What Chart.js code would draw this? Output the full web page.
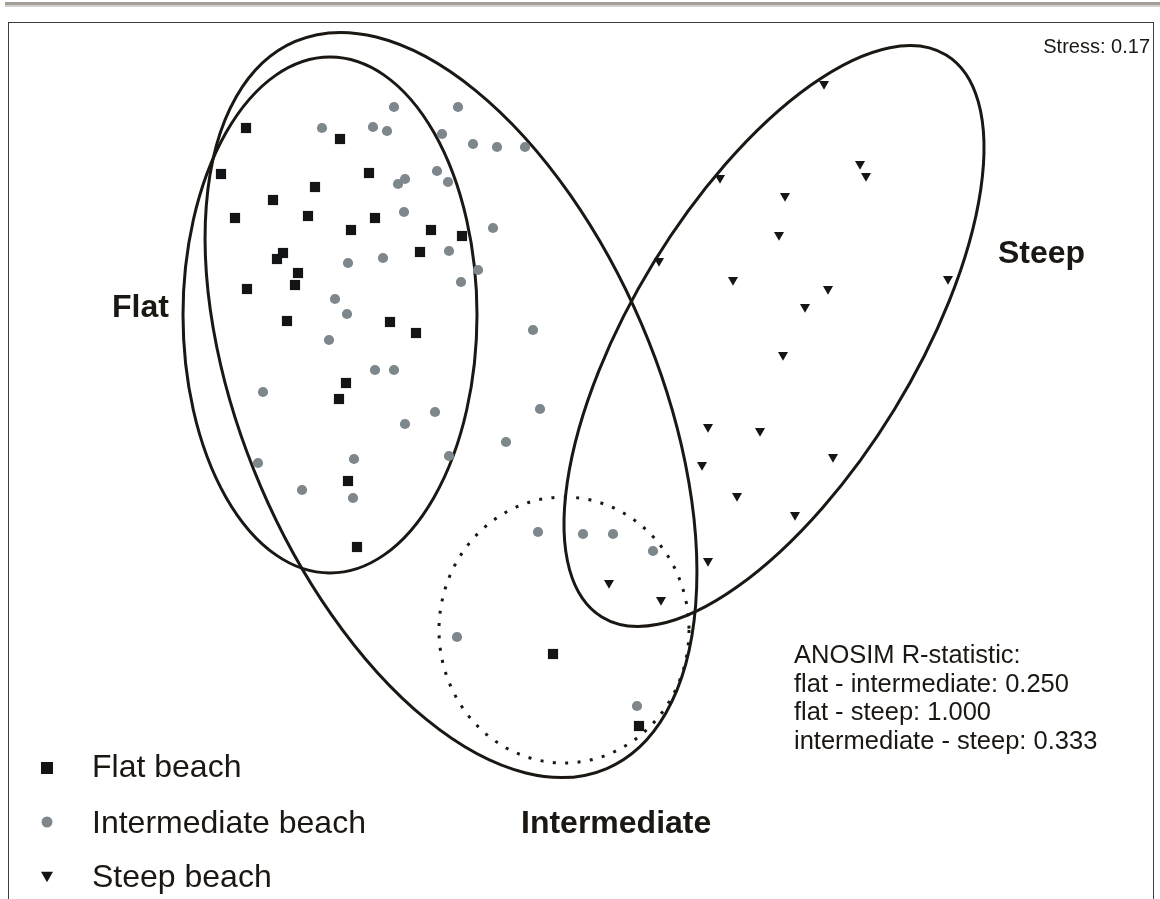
<!DOCTYPE html>
<html>
<head>
<meta charset="utf-8">
<script src="https://cdn.jsdelivr.net/npm/chart.js@4.4.1/dist/chart.umd.min.js"></script>
<style>
html, body { margin: 0; padding: 0; background: #fff; }
canvas { display: block; }
</style>
</head>
<body>
<canvas id="nmds" width="1160" height="899"></canvas>
<script>
// NMDS ordination of beach samples, positions (plot units, y grows downward)
var flatX = [246, 340, 221, 369, 315, 273, 235, 308, 375, 351, 431, 462, 420, 283, 277, 298, 295, 247, 287, 390, 416, 346, 339, 348, 357, 553, 639]
var flatY = [128, 139, 174, 173, 187, 200, 218, 216, 218, 230, 230, 236, 252, 253, 259, 273, 285, 289, 321, 322, 333, 383, 399, 481, 547, 654, 726]

var interX = [394, 458, 322, 373, 387, 442, 473, 497, 525, 437, 448, 405, 398, 404, 493, 449, 383, 348, 478, 461, 335, 347, 329, 375, 394, 263, 533, 540, 435, 405, 506, 258, 354, 449, 302, 353, 538, 583, 613, 653, 457, 637]
var interY = [107, 107, 128, 127, 131, 134, 144, 147, 147, 171, 182, 179, 184, 212, 228, 251, 258, 263, 270, 282, 299, 314, 340, 370, 370, 392, 330, 409, 412, 424, 442, 463, 459, 456, 490, 498, 532, 534, 534, 551, 637, 706]

var steepX = [824, 860, 866, 720, 785, 779, 659, 733, 948, 828, 805, 783, 708, 760, 833, 702, 737, 795, 708, 609, 661]
var steepY = [84, 164, 176, 178, 196, 235, 261, 280, 279, 289, 307, 355, 427, 431, 457, 465, 496, 515, 561, 583, 600]

var seriesNames = ['Flat beach', 'Intermediate beach', 'Steep beach']

// group ellipses: centre, half axes, tilt (degrees, clockwise on screen)
var ellNames = ['Flat', 'Intermediate', 'Steep', 'Intermediate core']
var ellCx = [330, 451, 774, 564]
var ellCy = [315, 405, 336, 630]
var ellRx = [147, 207, 141, 125]
var ellRy = [258, 395.5, 329.5, 133]
var ellRot = [0, -23.2, 31.5, 0]
var ellDotted = [false, false, false, true]

var groupLabels = ['Flat', 'Steep', 'Intermediate']
var stressText = 'Stress: 0.17'
var anosimLines = ['ANOSIM R-statistic:', 'flat - intermediate: 0.250', 'flat - steep: 1.000', 'intermediate - steep: 0.333']

function pts(xs, ys) {
  return xs.map(function (v, i) { return { x: v, y: ys[i] } })
}

var INK = '#1b1713'
var FONT = '"Liberation Sans", Arial, sans-serif'

function marker(ctx, style, x, y, size, color) {
  ctx.fillStyle = color
  ctx.beginPath()
  if (style === 'rect') {
    ctx.rect(x - size / 2, y - size / 2, size, size)
  } else if (style === 'circle') {
    ctx.arc(x, y, size / 2, 0, Math.PI * 2)
  } else {
    var h = size * 0.866
    ctx.moveTo(x - size / 2, y - h / 2)
    ctx.lineTo(x + size / 2, y - h / 2)
    ctx.lineTo(x, y + h / 2)
    ctx.closePath()
  }
  ctx.fill()
}

var decor = {
  id: 'decor',
  beforeDraw: function (chart) {
    var ctx = chart.ctx
    ctx.save()
    ctx.fillStyle = '#a29d96'
    ctx.fillRect(5, 2, 1155, 3)
    ctx.fillStyle = '#d3d1cd'
    ctx.fillRect(5, 5, 1155, 2)
    ctx.strokeStyle = '#3c3c3c'
    ctx.lineWidth = 1
    ctx.strokeRect(8.5, 22.5, 1145, 900)
    ctx.restore()
  },
  beforeDatasetsDraw: function (chart) {
    var ctx = chart.ctx
    var xs = chart.scales.x, ys = chart.scales.y
    ctx.save()
    for (var i = 0; i < ellCx.length; i++) {
      var px = xs.getPixelForValue(ellCx[i])
      var py = ys.getPixelForValue(ellCy[i])
      var rx = Math.abs(xs.getPixelForValue(ellCx[i] + ellRx[i]) - px)
      var ry = Math.abs(ys.getPixelForValue(ellCy[i] + ellRy[i]) - py)
      ctx.beginPath()
      ctx.ellipse(px, py, rx, ry, ellRot[i] * Math.PI / 180, 0, Math.PI * 2)
      ctx.strokeStyle = INK
      ctx.lineWidth = 3
      ctx.lineCap = 'butt'
      ctx.setLineDash(ellDotted[i] ? [3, 9.4] : [])
      ctx.stroke()
    }
    ctx.restore()
  },
  afterDraw: function (chart) {
    var ctx = chart.ctx
    ctx.save()
    ctx.fillStyle = INK
    ctx.textBaseline = 'alphabetic'

    // group names
    ctx.font = 'bold 32px ' + FONT
    ctx.textAlign = 'left'
    ctx.fillText(groupLabels[0], 112, 317)
    ctx.fillText(groupLabels[1], 998, 263)
    ctx.fillText(groupLabels[2], 521, 833)

    // stress value
    ctx.font = '20px ' + FONT
    ctx.textAlign = 'right'
    ctx.fillText(stressText, 1150, 53)

    // ANOSIM block
    ctx.font = '25.5px ' + FONT
    ctx.textAlign = 'left'
    for (var i = 0; i < anosimLines.length; i++) {
      ctx.fillText(anosimLines[i], 794, 663 + i * 28.5)
    }

    // legend
    var ds = chart.data.datasets
    var styles = ['rect', 'circle', 'triangle']
    var sizes = [12, 11, 12]
    var rowY = [768, 822, 877]
    var baseY = [777, 833, 887]
    ctx.font = '32px ' + FONT
    for (var k = 0; k < ds.length; k++) {
      marker(ctx, styles[k], 47, rowY[k], sizes[k], ds[k].backgroundColor)
      ctx.fillStyle = INK
      ctx.fillText(ds[k].label, 92, baseY[k])
    }
    ctx.restore()
  }
}

new Chart(document.getElementById('nmds'), {
  type: 'scatter',
  data: {
    datasets: [
      {
        label: seriesNames[0],
        data: pts(flatX, flatY),
        pointStyle: 'rect',
        pointRadius: 7.2,
        backgroundColor: '#121416',
        borderColor: '#121416',
        borderWidth: 0
      },
      {
        label: seriesNames[1],
        data: pts(interX, interY),
        pointStyle: 'circle',
        pointRadius: 5.1,
        backgroundColor: '#7e878c',
        borderColor: '#7e878c',
        borderWidth: 0
      },
      {
        label: seriesNames[2],
        data: pts(steepX, steepY),
        pointStyle: 'triangle',
        rotation: 180,
        pointRadius: 5.8,
        backgroundColor: '#151515',
        borderColor: '#151515',
        borderWidth: 0
      }
    ]
  },
  options: {
    responsive: false,
    animation: false,
    devicePixelRatio: 1,
    layout: { padding: 0, autoPadding: false },
    clip: false,
    scales: {
      x: { type: 'linear', min: 0, max: 1160, display: false },
      y: { type: 'linear', min: 0, max: 899, reverse: true, display: false }
    },
    plugins: {
      legend: { display: false },
      tooltip: { enabled: false }
    }
  },
  plugins: [decor]
})
</script>
</body>
</html>
